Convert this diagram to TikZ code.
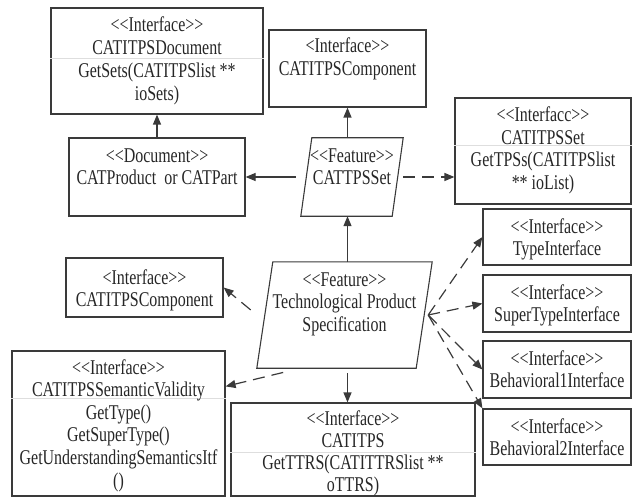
\documentclass[tikz,border=0pt]{standalone}
\usepackage{fontspec}
\setmainfont{Liberation Serif}[FakeStretch=0.76, Ligatures=TeXOff]
\usepackage{tikz}
\usetikzlibrary{arrows.meta, calc}
\definecolor{uline}{HTML}{3A3A3A}
\definecolor{utext}{HTML}{262626}
\definecolor{usep}{HTML}{DEDEDE}
\tikzset{
  ifbox/.style={draw=uline, line width=1.2pt, rectangle, inner sep=0pt},
  feat/.style={rectangle, inner sep=0pt},
  featline/.style={draw=uline, line width=1.1pt, line join=miter},
  lbl/.style={anchor=base, text=utext, inner sep=0pt, font=\fontsize{21}{22.7}\selectfont},
  sepline/.style={usep, line width=0.8pt},
  solidarr/.style={draw=uline, line width=1.2pt, -{Triangle[length=10pt, width=8pt]}},
  dasharr/.style={solidarr, dash pattern=on 12pt off 7pt},
}
% slanted outline round a feature node: #1 node, #2 slant
\newcommand{\featshape}[2]{%
  \draw[featline] ($(#1.north west)+(#2,0)$) -- (#1.north east)
    -- ($(#1.south east)+(-#2,0)$) -- (#1.south west) -- cycle;
}
% centred lines of text: #1 name, #2 x, #3 first baseline, #4 lines
\newcommand{\boxlines}[4]{%
  \foreach \ln [count=\i] in {#4}
    \node[lbl] (#1-\i) at (#2,{#3+(\i-1)*22.7}) {\ln};
}

\begin{document}
\begin{tikzpicture}[x=1pt, y=-1pt]
  \useasboundingbox (0,0) rectangle (636,497);

  %% Top row
  \node[ifbox, minimum width=212pt, minimum height=106pt] (doc) at (157,61) {};
  \draw[sepline] ($(doc.north west)+(0,51)$) -- ($(doc.north east)+(0,51)$);
  \boxlines{doctitle}{157}{32}{<<Interface>>, CATITPSDocument}
  \boxlines{docmeth}{157}{78}{GetSets(CATITPSlist **, ioSets)}

  \node[ifbox, minimum width=157pt, minimum height=77pt] (comp) at (347.5,68.5) {};
  \boxlines{comptitle}{347.5}{53}{<Interface>>, CATITPSComponent}

  \node[ifbox, minimum width=176pt, minimum height=106pt] (tpsset) at (543,151) {};
  \draw[sepline] ($(tpsset.north west)+(0,48)$) -- ($(tpsset.north east)+(0,48)$);
  \boxlines{tpssettitle}{543}{122}{<<Interfacc>>, CATITPSSet}
  \boxlines{tpssetmeth}{543}{167}{GetTPSs(CATITPSlist, ** ioList)}

  %% Second row
  \node[ifbox, minimum width=176pt, minimum height=78pt] (prod) at (157,177) {};
  \boxlines{prodtitle}{157}{162}{<<Document>>, CATProduct\ \ or CATPart}

  \node[feat, minimum width=102pt, minimum height=78pt] (set) at (352,177) {};
  \featshape{set}{11}
  \boxlines{settitle}{352}{162}{<<Feature>>, CATTPSSet}

  %% Middle
  \node[ifbox, minimum width=157pt, minimum height=59pt] (lcomp) at (144.5,287.5) {};
  \boxlines{lcomptitle}{144.5}{284}{<Interface>>, CATITPSComponent}

  \node[feat, minimum width=175pt, minimum height=106pt] (tps) at (344.5,315) {};
  \featshape{tps}{16}
  \boxlines{tpstitle}{344.5}{286}{<<Feature>>, Technological Product, Specification}

  %% Right column
  \node[ifbox, minimum width=148pt, minimum height=56pt] (typeI) at (557,237) {};
  \boxlines{typeItitle}{557}{233}{<<Interface>>, TypeInterface}
  \node[ifbox, minimum width=148pt, minimum height=57pt] (superI) at (557,303.5) {};
  \boxlines{superItitle}{557}{299}{<<Interface>>, SuperTypeInterface}
  \node[ifbox, minimum width=148pt, minimum height=57pt] (behOne) at (557,369.5) {};
  \boxlines{behOnetitle}{557}{365}{<<Interface>>, Behavioral1Interface}
  \node[ifbox, minimum width=148pt, minimum height=56pt] (behTwo) at (557,437) {};
  \boxlines{behTwotitle}{557}{433}{<<Interface>>, Behavioral2Interface}

  %% Bottom row
  \node[ifbox, minimum width=213pt, minimum height=145pt] (sem) at (118.5,423.5) {};
  \draw[sepline] ($(sem.north west)+(0,48)$) -- ($(sem.north east)+(0,48)$);
  \boxlines{semtitle}{118.5}{374}{<<Interface>>, CATITPSSemanticValidity}
  \boxlines{semmeth}{118.5}{419}
    {GetType(), GetSuperType(), GetUnderstandingSemanticsItf, ()}

  \node[ifbox, minimum width=244pt, minimum height=93pt] (itps) at (353,449.5) {};
  \draw[sepline] ($(itps.north west)+(0,50)$) -- ($(itps.north east)+(0,50)$);
  \boxlines{itpstitle}{353}{425}{<<Interface>>, CATITPS}
  \boxlines{itpsmeth}{353}{469}{GetTTRS(CATITTRSlist **, oTTRS)}

  %% Connectors
  \draw[solidarr] (prod.north) -- (doc.south);
  \draw[solidarr] (comp.south |- set.north) -- (comp.south);
  \draw[solidarr, shorten <=5pt] (set.west) -- (prod.east);
  \draw[dasharr] (set.east) -- (set.east -| tpsset.west);
  \draw[solidarr] (comp.south |- tps.north) -- (comp.south |- set.south);
  \draw[solidarr, shorten <=5pt] (comp.south |- tps.south) -- (comp.south |- itps.north);
  \draw[dasharr, shorten <=8pt] (tps.west) -- (lcomp.east);
  \draw[dasharr, shorten <=18pt] ($(tps.south)!0.5!(tps.south west)$)
    -- ($(sem.north east)+(0,36)$);
  \foreach \tgt in {typeI.west, superI.west, behOne.west, behTwo.north west}
    \draw[dasharr] ($(tps.east)+(-4,0)$) -- (\tgt);

\end{tikzpicture}
\end{document}
